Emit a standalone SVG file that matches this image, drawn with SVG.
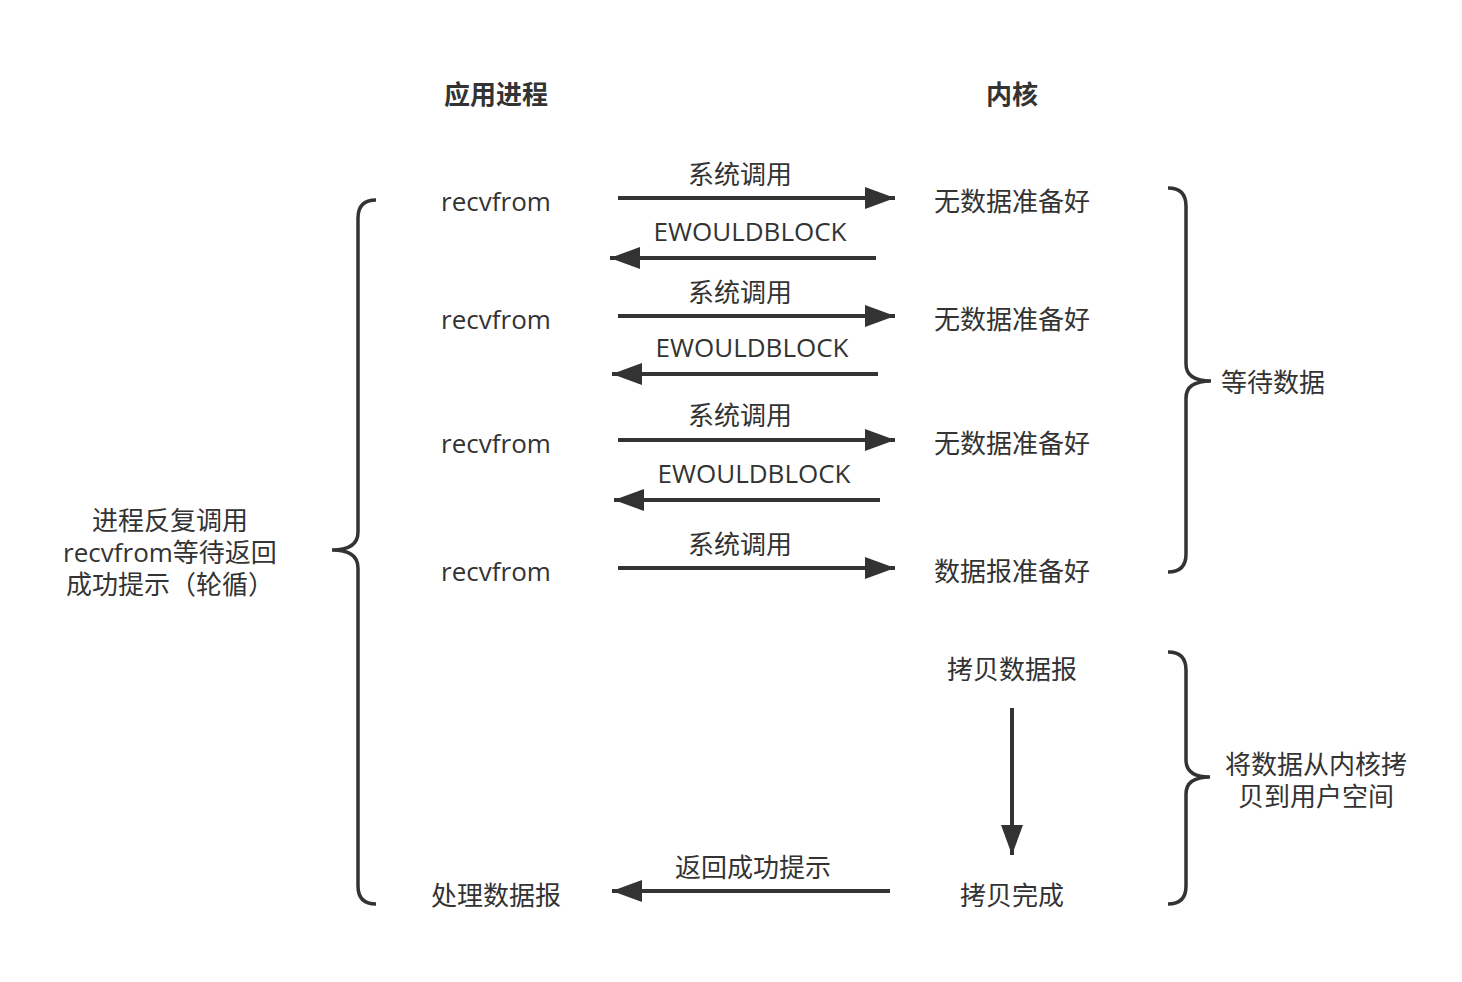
<svg xmlns="http://www.w3.org/2000/svg" width="1462" height="982" viewBox="0 0 1462 982">
<style>
text{font-family:"Open Sans","Noto Sans CJK SC",sans-serif;font-size:26px;fill:#333;text-anchor:middle;dominant-baseline:central}
.b{font-weight:bold}
.l{text-anchor:start}
.c{stroke:#333;stroke-width:4;fill:none}
.br{stroke:#333;stroke-width:3.5;fill:none;stroke-linecap:butt}
</style>
<defs>
<marker id="ah" markerUnits="userSpaceOnUse" markerWidth="30" markerHeight="22" refX="30" refY="11" orient="auto">
<path d="M0,0 L30,11 L0,22 z" fill="#333"/>
</marker>
</defs>
<rect width="1462" height="982" fill="#fff"/>
<g id="headers">
<text class="b" x="496" y="94">应用进程</text>
<text class="b" x="1012" y="94">内核</text>
</g>
<g id="app">
<text x="496" y="201">recvfrom</text>
<text x="496" y="319">recvfrom</text>
<text x="496" y="443">recvfrom</text>
<text x="496" y="571">recvfrom</text>
<text x="496" y="895">处理数据报</text>
</g>
<g id="kernel">
<text x="1012" y="201">无数据准备好</text>
<text x="1012" y="319">无数据准备好</text>
<text x="1012" y="443">无数据准备好</text>
<text x="1012" y="571">数据报准备好</text>
<text x="1012" y="669">拷贝数据报</text>
<text x="1012" y="895">拷贝完成</text>
</g>
<g id="notes">
<text x="170" y="520">进程反复调用<tspan x="170" dy="32">recvfrom等待返回</tspan><tspan x="170" dy="32">成功提示（轮循）</tspan></text>
<text class="l" x="1221" y="382">等待数据</text>
<text x="1316" y="764">将数据从内核拷<tspan x="1316" dy="32">贝到用户空间</tspan></text>
</g>
<g id="connectors">
<line class="c" x1="618" y1="198" x2="895" y2="198" marker-end="url(#ah)"/>
<line class="c" x1="876" y1="258" x2="610" y2="258" marker-end="url(#ah)"/>
<line class="c" x1="618" y1="316" x2="895" y2="316" marker-end="url(#ah)"/>
<line class="c" x1="878" y1="374" x2="612" y2="374" marker-end="url(#ah)"/>
<line class="c" x1="618" y1="440" x2="895" y2="440" marker-end="url(#ah)"/>
<line class="c" x1="880" y1="500" x2="614" y2="500" marker-end="url(#ah)"/>
<line class="c" x1="618" y1="568" x2="895" y2="568" marker-end="url(#ah)"/>
<line class="c" x1="1012" y1="708" x2="1012" y2="855" marker-end="url(#ah)"/>
<line class="c" x1="890" y1="891" x2="612" y2="891" marker-end="url(#ah)"/>
<text x="740" y="174">系统调用</text>
<text x="750" y="231">EWOULDBLOCK</text>
<text x="740" y="292">系统调用</text>
<text x="752" y="347">EWOULDBLOCK</text>
<text x="740" y="415">系统调用</text>
<text x="754" y="473">EWOULDBLOCK</text>
<text x="740" y="544">系统调用</text>
<text x="753" y="867">返回成功提示</text>
</g>
<g id="braces">
<path class="br" d="M376,200 Q358,200 358,218 L358,532 Q358,550 332,550 Q358,550 358,568 L358,886 Q358,904 376,904"/>
<path class="br" d="M1168,188 Q1186,188 1186,206 L1186,364 Q1186,381 1211,381 Q1186,381 1186,398 L1186,554 Q1186,572 1168,572"/>
<path class="br" d="M1168,652 Q1186,652 1186,670 L1186,760 Q1186,777 1210,777 Q1186,777 1186,794 L1186,886 Q1186,904 1168,904"/>
</g>
</svg>
